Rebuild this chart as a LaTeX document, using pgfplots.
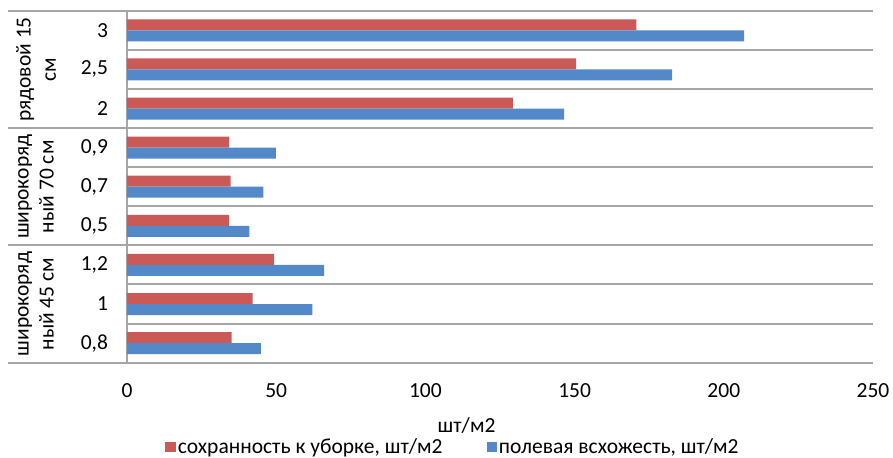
\documentclass[border=0pt]{standalone}
\usepackage{fontspec}
\setmainfont{Carlito}
\usepackage{pgfplots}
\pgfplotsset{compat=1.18}

\definecolor{barred}{RGB}{203,89,85}
\definecolor{barblue}{RGB}{83,137,200}
\definecolor{gridgray}{RGB}{166,166,166}

\newcommand{\lbl}{\fontsize{10.75}{12.6}\selectfont}

\begin{document}
\begin{tikzpicture}
% page = 893x457 px at 0.5pt per px, axis box south west at (0,0)
\useasboundingbox (-63.5pt,-47.15pt) rectangle (383pt,181.35pt);

\begin{axis}[
    at={(0,0)},
    anchor=south west,
    scale only axis,
    width=373pt,
    height=176pt,
    xbar,
    bar width=5.5pt,
    xmin=0, xmax=250,
    ymin=-0.5, ymax=8.5,
    xtick={0,50,100,150,200,250},
    ytick={0,1,2,3,4,5,6,7,8},
    yticklabels={{0,8},{1},{1,2},{0,5},{0,7},{0,9},{2},{2,5},{3}},
    /pgf/number format/assume math mode=true,
    tick label style={font=\lbl},
    xticklabel style={yshift=-7pt},
    yticklabel style={xshift=-6pt},
    major tick length=0pt,
    axis line style={draw=none},
    clip=false,
    legend style={
        at={(0.437,-0.24)},
        anchor=center,
        draw=none,
        fill=none,
        font=\lbl,
        nodes={inner sep=1pt},
        legend columns=2,
        /tikz/every even column/.append style={column sep=21pt},
    },
    legend image code/.code={\fill[#1] (0pt,-2.6pt) rectangle (5.2pt,2.6pt);},
]

% category separators
\pgfplotsinvokeforeach{-0.5,0.5,1.5,2.5,3.5,4.5,5.5,6.5,7.5,8.5}{
    \draw[gridgray, line width=1pt] (axis cs:0,#1) -- (axis cs:250,#1);
}
% group separators run out under the labels
\pgfplotsinvokeforeach{-0.5,2.5,5.5,8.5}{
    \draw[gridgray, line width=1pt] ([xshift=-59.5pt]axis cs:0,#1) -- (axis cs:0,#1);
}
\draw[gridgray, line width=1pt] (axis cs:0,-0.5) -- (axis cs:0,8.5);

% сохранность к уборке (upper bar in each pair)
\addplot[fill=barred, draw=none, bar shift=2.75pt] coordinates {
    (35.1,0) (42.1,1) (49.3,2) (34.2,3) (34.7,4) (34.2,5)
    (129.3,6) (150.5,7) (170.7,8)};
\addlegendentry{сохранность к уборке, шт/м2}

% полевая всхожесть (lower bar)
\addplot[fill=barblue, draw=none, bar shift=-2.75pt] coordinates {
    (44.9,0) (62.1,1) (66.1,2) (41.0,3) (45.7,4) (49.9,5)
    (146.5,6) (182.7,7) (206.8,8)};
\addlegendentry{полевая всхожесть, шт/м2}

% group names
\node[rotate=90, align=center, font=\lbl] at ([xshift=-45.5pt]axis cs:0,7) {рядовой 15\\см};
\node[rotate=90, align=center, font=\lbl] at ([xshift=-45.5pt]axis cs:0,4) {широкоряд\\ный 70 см};
\node[rotate=90, align=center, font=\lbl] at ([xshift=-45.5pt]axis cs:0,1) {широкоряд\\ный 45 см};

% axis title
\node[font=\lbl, anchor=base, inner sep=0pt] at ([yshift=-35pt]axis cs:113.8,-0.5) {шт/м2};

\end{axis}
\end{tikzpicture}
\end{document}
